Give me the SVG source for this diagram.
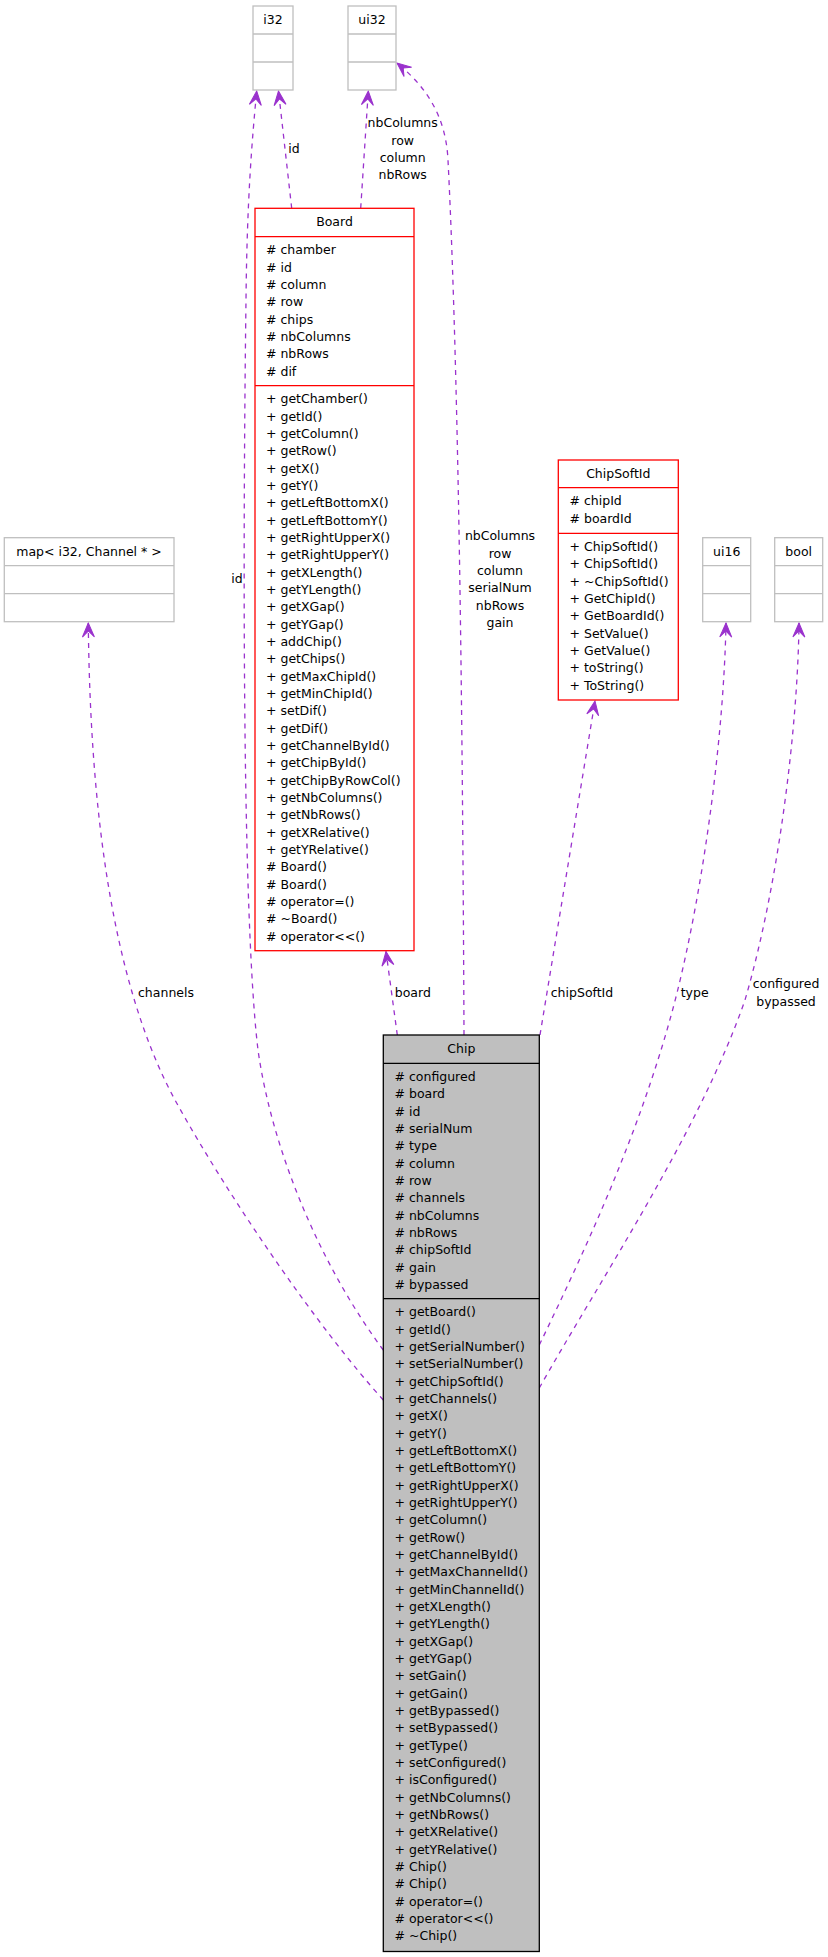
<svg xmlns="http://www.w3.org/2000/svg" width="828" height="1957" viewBox="0 0 828 1957">
<style>
.t{font-family:"DejaVu Sans","Liberation Sans",sans-serif;font-size:12.5px;fill:#000}
.c{text-anchor:middle}
.e{fill:none;stroke:#9a32cd;stroke-width:1.3;stroke-dasharray:5,5}
.g{fill:#fff;stroke:#bfbfbf;stroke-width:1.3}
.r{fill:#fff;stroke:#ff0000;stroke-width:1.3}
.k{fill:#bfbfbf;stroke:#000;stroke-width:1.3}
.lg{stroke:#bfbfbf;stroke-width:1.3}
.lr{stroke:#ff0000;stroke-width:1.3}
.lk{stroke:#000;stroke-width:1.3}
</style>
<defs>
<marker id="ah" markerUnits="userSpaceOnUse" markerWidth="16" markerHeight="14" viewBox="-15 -7 16 14" refX="0" refY="0" orient="auto">
<path d="M0,0 L-14,-6 L-8,0 L-14,6 Z" fill="#9a32cd" stroke="#9a32cd" stroke-width="1"/>
</marker>
</defs>
<rect width="828" height="1957" fill="#fff"/>

<g id="connectors">
<path class="e" marker-end="url(#ah)" d="M291.7,208.3 L278.5,91"/>
<text class="t c" x="294" y="153">id</text>
<path class="e" marker-end="url(#ah)" d="M360.7,208.3 L368.3,91"/>
<text class="t c" x="402.7" y="127.3">nbColumns<tspan x="402.7" dy="17.33">row</tspan><tspan x="402.7" dy="17.33">column</tspan><tspan x="402.7" dy="17.33">nbRows</tspan></text>
<path class="e" marker-end="url(#ah)" d="M464,1035 C463,800 460,400 448,160 C446,120 430,90 397,63"/>
<text class="t c" x="500" y="540.3">nbColumns<tspan x="500" dy="17.33">row</tspan><tspan x="500" dy="17.33">column</tspan><tspan x="500" dy="17.33">serialNum</tspan><tspan x="500" dy="17.33">nbRows</tspan><tspan x="500" dy="17.33">gain</tspan></text>
<path class="e" marker-end="url(#ah)" d="M383.3,1350 C320,1265 272,1150 258,1050 C240,900 244,450 246,300 C247,200 252,140 256.7,91"/>
<text class="t c" x="237" y="583">id</text>
<path class="e" marker-end="url(#ah)" d="M383.3,1400 C320,1330 230,1200 175,1100 C110,980 90,800 88.3,623"/>
<text class="t c" x="166" y="997">channels</text>
<path class="e" marker-end="url(#ah)" d="M397.3,1035 L386,951.5"/>
<text class="t c" x="412.8" y="997">board</text>
<path class="e" marker-end="url(#ah)" d="M540,1035 L595,701"/>
<text class="t c" x="582" y="997">chipSoftId</text>
<path class="e" marker-end="url(#ah)" d="M539.3,1345 C590,1240 645,1120 677,993 C705,880 724,730 726,623"/>
<text class="t c" x="694.7" y="997">type</text>
<path class="e" marker-end="url(#ah)" d="M539.3,1388 C600,1280 700,1130 745,1000 C780,880 798,720 799,623"/>
<text class="t c" x="786" y="988.3">configured<tspan x="786" dy="17.33">bypassed</tspan></text>
</g>

<g id="i32">
<rect class="g" x="253" y="6" width="40" height="84"/>
<line class="lg" x1="253" y1="34" x2="293" y2="34"/>
<line class="lg" x1="253" y1="62" x2="293" y2="62"/>
<text class="t c" x="273" y="23.5">i32</text>
</g>

<g id="ui32">
<rect class="g" x="348" y="6" width="48" height="84"/>
<line class="lg" x1="348" y1="34" x2="396" y2="34"/>
<line class="lg" x1="348" y1="62" x2="396" y2="62"/>
<text class="t c" x="372" y="23.5">ui32</text>
</g>

<g id="map">
<rect class="g" x="4.3" y="537.7" width="169.7" height="84"/>
<line class="lg" x1="4.3" y1="565.7" x2="174" y2="565.7"/>
<line class="lg" x1="4.3" y1="593.7" x2="174" y2="593.7"/>
<text class="t c" x="89" y="555.5">map&lt; i32, Channel * &gt;</text>
</g>

<g id="ui16">
<rect class="g" x="702.7" y="537.7" width="48" height="84"/>
<line class="lg" x1="702.7" y1="565.7" x2="750.7" y2="565.7"/>
<line class="lg" x1="702.7" y1="593.7" x2="750.7" y2="593.7"/>
<text class="t c" x="726.7" y="555.5">ui16</text>
</g>

<g id="bool">
<rect class="g" x="774.7" y="537.7" width="48" height="84"/>
<line class="lg" x1="774.7" y1="565.7" x2="822.7" y2="565.7"/>
<line class="lg" x1="774.7" y1="593.7" x2="822.7" y2="593.7"/>
<text class="t c" x="798.7" y="555.5">bool</text>
</g>

<g id="Board">
<rect class="r" x="255" y="208.3" width="159" height="742.4"/>
<line class="lr" x1="255" y1="236.7" x2="414" y2="236.7"/>
<line class="lr" x1="255" y1="385.7" x2="414" y2="385.7"/>
<text class="t c" x="334.5" y="226.3">Board</text>
<text class="t" x="266" y="254.3"># chamber<tspan x="266" dy="17.33"># id</tspan><tspan x="266" dy="17.33"># column</tspan><tspan x="266" dy="17.33"># row</tspan><tspan x="266" dy="17.33"># chips</tspan><tspan x="266" dy="17.33"># nbColumns</tspan><tspan x="266" dy="17.33"># nbRows</tspan><tspan x="266" dy="17.33"># dif</tspan></text>
<text class="t" x="266" y="403.3">+ getChamber()<tspan x="266" dy="17.33">+ getId()</tspan><tspan x="266" dy="17.33">+ getColumn()</tspan><tspan x="266" dy="17.33">+ getRow()</tspan><tspan x="266" dy="17.33">+ getX()</tspan><tspan x="266" dy="17.33">+ getY()</tspan><tspan x="266" dy="17.33">+ getLeftBottomX()</tspan><tspan x="266" dy="17.33">+ getLeftBottomY()</tspan><tspan x="266" dy="17.33">+ getRightUpperX()</tspan><tspan x="266" dy="17.33">+ getRightUpperY()</tspan><tspan x="266" dy="17.33">+ getXLength()</tspan><tspan x="266" dy="17.33">+ getYLength()</tspan><tspan x="266" dy="17.33">+ getXGap()</tspan><tspan x="266" dy="17.33">+ getYGap()</tspan><tspan x="266" dy="17.33">+ addChip()</tspan><tspan x="266" dy="17.33">+ getChips()</tspan><tspan x="266" dy="17.33">+ getMaxChipId()</tspan><tspan x="266" dy="17.33">+ getMinChipId()</tspan><tspan x="266" dy="17.33">+ setDif()</tspan><tspan x="266" dy="17.33">+ getDif()</tspan><tspan x="266" dy="17.33">+ getChannelById()</tspan><tspan x="266" dy="17.33">+ getChipById()</tspan><tspan x="266" dy="17.33">+ getChipByRowCol()</tspan><tspan x="266" dy="17.33">+ getNbColumns()</tspan><tspan x="266" dy="17.33">+ getNbRows()</tspan><tspan x="266" dy="17.33">+ getXRelative()</tspan><tspan x="266" dy="17.33">+ getYRelative()</tspan><tspan x="266" dy="17.33"># Board()</tspan><tspan x="266" dy="17.33"># Board()</tspan><tspan x="266" dy="17.33"># operator=()</tspan><tspan x="266" dy="17.33"># ~Board()</tspan><tspan x="266" dy="17.33"># operator&lt;&lt;()</tspan></text>
</g>

<g id="ChipSoftId">
<rect class="r" x="558.3" y="460" width="120" height="240"/>
<line class="lr" x1="558.3" y1="487.7" x2="678.3" y2="487.7"/>
<line class="lr" x1="558.3" y1="533.3" x2="678.3" y2="533.3"/>
<text class="t c" x="618.3" y="478">ChipSoftId</text>
<text class="t" x="569.5" y="505.3"># chipId<tspan x="569.5" dy="17.33"># boardId</tspan></text>
<text class="t" x="569.5" y="550.9">+ ChipSoftId()<tspan x="569.5" dy="17.33">+ ChipSoftId()</tspan><tspan x="569.5" dy="17.33">+ ~ChipSoftId()</tspan><tspan x="569.5" dy="17.33">+ GetChipId()</tspan><tspan x="569.5" dy="17.33">+ GetBoardId()</tspan><tspan x="569.5" dy="17.33">+ SetValue()</tspan><tspan x="569.5" dy="17.33">+ GetValue()</tspan><tspan x="569.5" dy="17.33">+ toString()</tspan><tspan x="569.5" dy="17.33">+ ToString()</tspan></text>
</g>

<g id="Chip">
<rect class="k" x="383.3" y="1035" width="156" height="916.5"/>
<line class="lk" x1="383.3" y1="1063.3" x2="539.3" y2="1063.3"/>
<line class="lk" x1="383.3" y1="1298.7" x2="539.3" y2="1298.7"/>
<text class="t c" x="461.3" y="1053">Chip</text>
<text class="t" x="394.5" y="1080.9"># configured<tspan x="394.5" dy="17.33"># board</tspan><tspan x="394.5" dy="17.33"># id</tspan><tspan x="394.5" dy="17.33"># serialNum</tspan><tspan x="394.5" dy="17.33"># type</tspan><tspan x="394.5" dy="17.33"># column</tspan><tspan x="394.5" dy="17.33"># row</tspan><tspan x="394.5" dy="17.33"># channels</tspan><tspan x="394.5" dy="17.33"># nbColumns</tspan><tspan x="394.5" dy="17.33"># nbRows</tspan><tspan x="394.5" dy="17.33"># chipSoftId</tspan><tspan x="394.5" dy="17.33"># gain</tspan><tspan x="394.5" dy="17.33"># bypassed</tspan></text>
<text class="t" x="394.5" y="1316.3">+ getBoard()<tspan x="394.5" dy="17.33">+ getId()</tspan><tspan x="394.5" dy="17.33">+ getSerialNumber()</tspan><tspan x="394.5" dy="17.33">+ setSerialNumber()</tspan><tspan x="394.5" dy="17.33">+ getChipSoftId()</tspan><tspan x="394.5" dy="17.33">+ getChannels()</tspan><tspan x="394.5" dy="17.33">+ getX()</tspan><tspan x="394.5" dy="17.33">+ getY()</tspan><tspan x="394.5" dy="17.33">+ getLeftBottomX()</tspan><tspan x="394.5" dy="17.33">+ getLeftBottomY()</tspan><tspan x="394.5" dy="17.33">+ getRightUpperX()</tspan><tspan x="394.5" dy="17.33">+ getRightUpperY()</tspan><tspan x="394.5" dy="17.33">+ getColumn()</tspan><tspan x="394.5" dy="17.33">+ getRow()</tspan><tspan x="394.5" dy="17.33">+ getChannelById()</tspan><tspan x="394.5" dy="17.33">+ getMaxChannelId()</tspan><tspan x="394.5" dy="17.33">+ getMinChannelId()</tspan><tspan x="394.5" dy="17.33">+ getXLength()</tspan><tspan x="394.5" dy="17.33">+ getYLength()</tspan><tspan x="394.5" dy="17.33">+ getXGap()</tspan><tspan x="394.5" dy="17.33">+ getYGap()</tspan><tspan x="394.5" dy="17.33">+ setGain()</tspan><tspan x="394.5" dy="17.33">+ getGain()</tspan><tspan x="394.5" dy="17.33">+ getBypassed()</tspan><tspan x="394.5" dy="17.33">+ setBypassed()</tspan><tspan x="394.5" dy="17.33">+ getType()</tspan><tspan x="394.5" dy="17.33">+ setConfigured()</tspan><tspan x="394.5" dy="17.33">+ isConfigured()</tspan><tspan x="394.5" dy="17.33">+ getNbColumns()</tspan><tspan x="394.5" dy="17.33">+ getNbRows()</tspan><tspan x="394.5" dy="17.33">+ getXRelative()</tspan><tspan x="394.5" dy="17.33">+ getYRelative()</tspan><tspan x="394.5" dy="17.33"># Chip()</tspan><tspan x="394.5" dy="17.33"># Chip()</tspan><tspan x="394.5" dy="17.33"># operator=()</tspan><tspan x="394.5" dy="17.33"># operator&lt;&lt;()</tspan><tspan x="394.5" dy="17.33"># ~Chip()</tspan></text>
</g>
</svg>
